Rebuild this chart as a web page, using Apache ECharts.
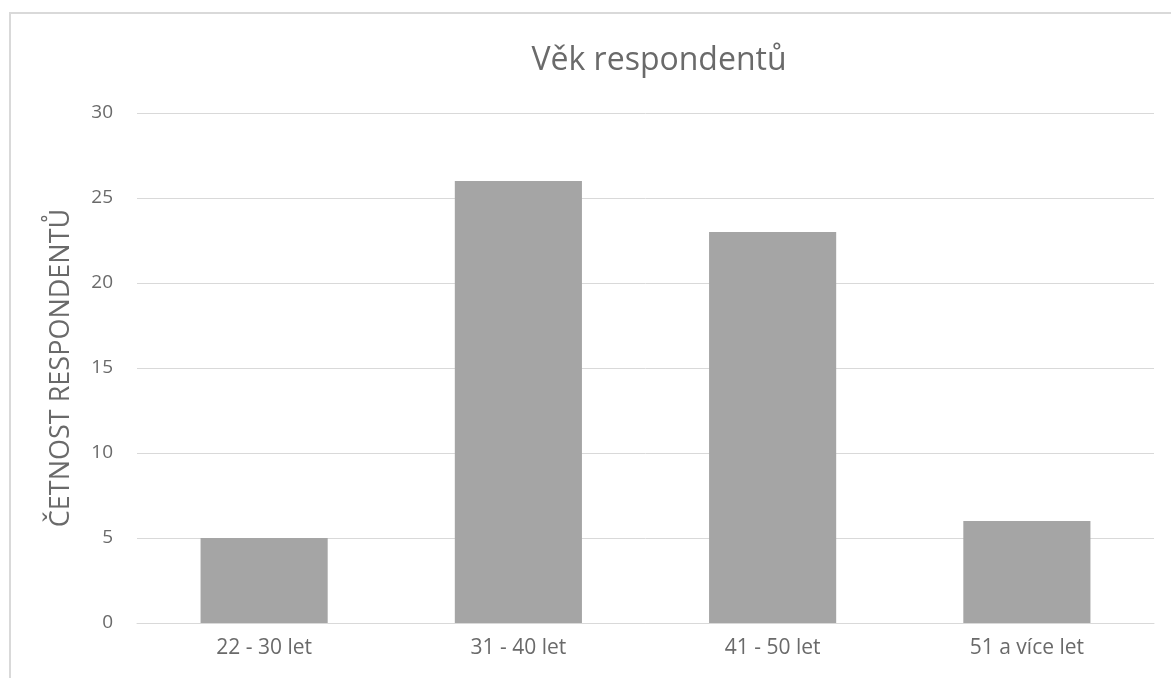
<!DOCTYPE html>
<html>
<head>
	<meta charset="utf-8">
	<title>Věk respondentů</title>
	<script src="https://cdn.jsdelivr.net/npm/echarts@6/dist/echarts.min.js"></script>
	<style>
		html, body { margin: 0; padding: 0; background: #fff; }
		#chart { width: 1171px; height: 678px; }
	</style>
</head>
<body>
	<div id="chart"></div>
	<script>
		// data
		var categories = ['22 - 30 let', '31 - 40 let', '41 - 50 let', '51 a více let'];
		var counts = [5, 26, 23, 6];
		var yTicks = { min: 0, max: 30, interval: 5 };

		var font = '"Open Sans", "Noto Sans", sans-serif';
		var textColor = '#6a6a6a';

		var chart = echarts.init(document.getElementById('chart'));
		chart.setOption({
			animation: false,
			textStyle: { fontFamily: font },
			// title sits off-centre: the chart frame runs past the right edge of the picture
			title: {
				text: 'Věk respondentů',
				left: 654,
				textAlign: 'center',
				top: 40,
				textStyle: { fontFamily: font, fontSize: 32, fontWeight: 'normal', color: textColor }
			},
			graphic: [{
				type: 'rect',
				shape: { x: 10, y: 13, width: 1200, height: 720 },
				style: { fill: 'none', stroke: '#d9d9d9', lineWidth: 2 },
				silent: true
			}],
			grid: { left: 137, right: 17, top: 113, bottom: 55, containLabel: false },
			xAxis: {
				type: 'category',
				data: categories,
				axisLine: { lineStyle: { color: '#d9d9d9', width: 1 } },
				axisTick: { show: false },
				axisLabel: { color: textColor, fontSize: 21, margin: 15, fontFamily: font }
			},
			yAxis: {
				type: 'value',
				min: yTicks.min,
				max: yTicks.max,
				interval: yTicks.interval,
				name: 'ČETNOST RESPONDENTŮ',
				nameLocation: 'middle',
				nameGap: 62,
				nameRotate: 90,
				nameTextStyle: { color: textColor, fontSize: 27, fontFamily: font },
				axisLine: { show: false },
				axisTick: { show: false },
				axisLabel: { color: textColor, fontSize: 19, margin: 24, fontFamily: font },
				splitLine: { lineStyle: { color: '#d9d9d9', width: 1 } }
			},
			series: [{
				type: 'bar',
				data: counts,
				barWidth: '50%',
				itemStyle: { color: '#a5a5a5' }
			}]
		});
	</script>
</body>
</html>
